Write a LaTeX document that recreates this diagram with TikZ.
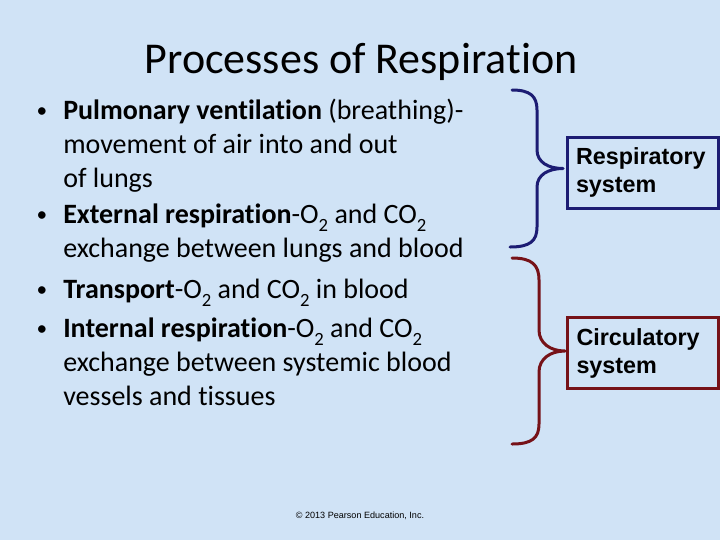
\documentclass[tikz,border=0pt]{standalone}
\usepackage{fontspec}
\setmainfont{Carlito}[Ligatures=NoCommon]
\newfontfamily\arialfont{Liberation Sans}
\usepackage{xcolor}
\usepackage{tikz}
\definecolor{slidebg}{RGB}{208,227,246}
\definecolor{respblue}{RGB}{28,28,115}
\definecolor{circred}{RGB}{118,18,24}
\newcommand{\subtwo}{\raisebox{-0.3em}{\fontsize{14}{14}\selectfont 2}}

\begin{document}
\begin{tikzpicture}[x=0.75pt,y=0.75pt,yscale=-1,xscale=1,
  bodytxt/.style={anchor=base west,inner sep=0pt,font=\fontsize{21}{25}\selectfont},
  dotmark/.style={anchor=base,inner sep=0pt,font=\fontsize{16}{20}\selectfont},
  sysbox/.style={draw,line width=2.25pt,rectangle,minimum width=113.25pt,minimum height=53.25pt,
    text width=99.75pt,align=left,inner xsep=6.75pt,inner ysep=0pt,
    font=\arialfont\bfseries\fontsize{17.5}{21}\selectfont},
  bracepath/.style={line width=2.25pt,line cap=round,line join=round}]
%set diagram as the slide, 720 x 540
\useasboundingbox (0,0) rectangle (720,540);
\fill [slidebg] (0,0) rectangle (720,540);

% Title
\node (title) at (361,73) [anchor=base,inner sep=0pt,font=\fontsize{33}{40}\selectfont] {Processes of Respiration};

% Bullet marks
\node (b1) at (42,117) [dotmark] {\textbullet};
\node (b2) at (42,221) [dotmark] {\textbullet};
\node (b3) at (42,296) [dotmark] {\textbullet};
\node (b4) at (42,335) [dotmark] {\textbullet};

% Text Node
\node (l1) at (63,119) [bodytxt] {\textbf{Pulmonary ventilation} (breathing)-};
\node (l2) at (63,153) [bodytxt] {movement of air into and out};
\node (l3) at (63,187) [bodytxt] {of lungs};
% Text Node
\node (l4) at (63,223) [bodytxt] {\textbf{External respiration}-O\subtwo{} and CO\subtwo};
\node (l5) at (63,257) [bodytxt] {exchange between lungs and blood};
% Text Node
\node (l6) at (63,298) [bodytxt] {\textbf{Transport}-O\subtwo{} and CO\subtwo{} in blood};
% Text Node
\node (l7) at (63,337) [bodytxt] {\textbf{Internal respiration}-O\subtwo{} and CO\subtwo};
\node (l8) at (63,371) [bodytxt] {exchange between systemic blood};
\node (l9) at (63,405) [bodytxt] {vessels and tissues};

% Boxes
\node (resp) at (642.5,172.5) [sysbox,respblue,text=black] {Respiratory\\system};
\node (circ) at (643,353) [sysbox,circred,text=black] {Circulatory\\system};

% Brace tips
\coordinate (rtip) at (563,168.5);
\coordinate (ctip) at (565,351);

%Curve Lines: respiratory brace
\draw [bracepath,respblue] (512,90) .. controls (530,90) and (537,96) .. (537,110) -- (537,150) .. controls (537,162) and (548,168.5) .. (rtip) .. controls (548,168.5) and (537,175) .. (537,187) -- (537,227) .. controls (537,241) and (530,247) .. (510,247);
%Curve Lines: circulatory brace
\draw [bracepath,circred] (512,258) .. controls (532,258) and (539,265) .. (539,280) -- (539,330) .. controls (539,343) and (550,351) .. (ctip) .. controls (550,351) and (539,359) .. (539,372) -- (539,424) .. controls (539,438) and (532,444) .. (512,444);

% Footer
\node (credit) at (360,518) [anchor=base,inner sep=0pt,font=\arialfont\fontsize{6.8}{8}\selectfont] {\textcopyright{} 2013 Pearson Education, Inc.};

\end{tikzpicture}
\end{document}
